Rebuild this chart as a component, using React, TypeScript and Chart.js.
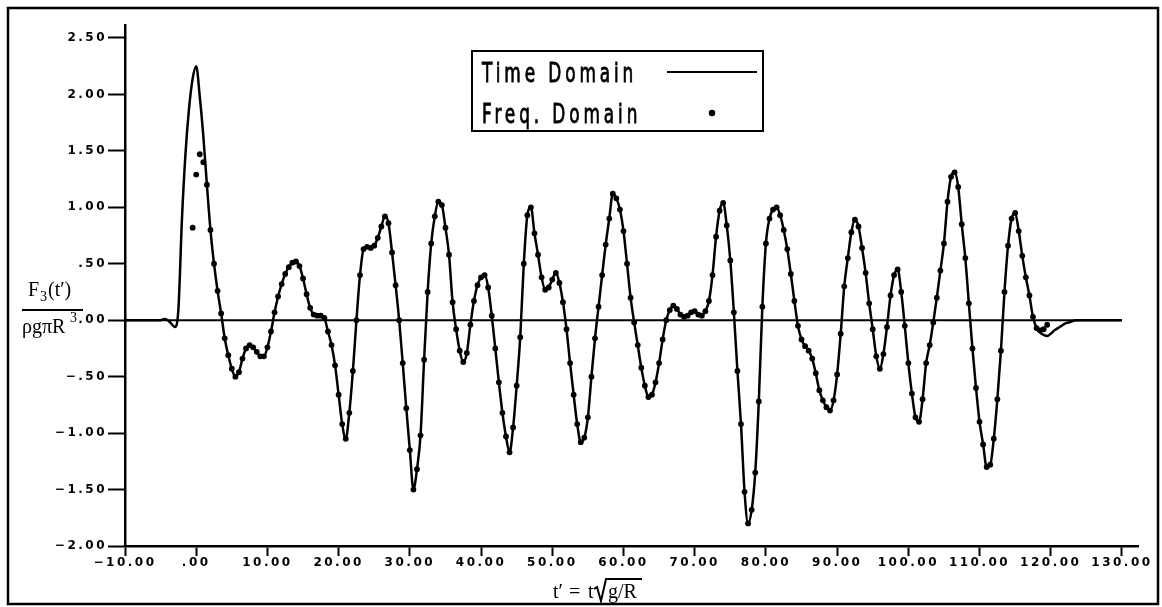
import { useEffect, useRef } from "react";
import { Chart, registerables } from "chart.js";

Chart.register(...registerables);

// Sampling of the time-domain trace: t' = -10 .. 130 in steps of 0.5
const T_START = -10;
const T_STEP = 0.5;

// F3(t') / (rho g pi R^3), time-domain solution
const TIME_DOMAIN: number[] = [
  // -10 .. -5.5
  0, 0, 0, 0, 0, 0, 0, 0, 0, 0,
  // -5 .. -0.5
  0.0, 0.01, 0.0, -0.03, -0.06, 0.1, 0.9, 1.48, 1.88, 2.14,
  // 0 .. 4.5
  2.25, 1.98, 1.63, 1.2, 0.8, 0.5, 0.26, 0.06, -0.16, -0.31,
  // 5 .. 9.5
  -0.43, -0.5, -0.46, -0.34, -0.25, -0.22, -0.24, -0.28, -0.32, -0.32,
  // 10 .. 14.5
  -0.24, -0.1, 0.07, 0.21, 0.32, 0.41, 0.47, 0.51, 0.52, 0.48,
  // 15 .. 19.5
  0.37, 0.23, 0.11, 0.05, 0.04, 0.04, 0.02, -0.1, -0.22, -0.4,
  // 20 .. 24.5
  -0.66, -0.92, -1.05, -0.82, -0.45, 0.0, 0.4, 0.63, 0.65, 0.64,
  // 25 .. 29.5
  0.66, 0.73, 0.83, 0.92, 0.86, 0.6, 0.31, 0.0, -0.38, -0.78,
  // 30 .. 34.5
  -1.15, -1.5, -1.32, -1.02, -0.35, 0.25, 0.68, 0.92, 1.05, 1.02,
  // 35 .. 39.5
  0.82, 0.58, 0.16, -0.08, -0.27, -0.37, -0.29, -0.04, 0.17, 0.31,
  // 40 .. 44.5
  0.38, 0.4, 0.29, 0.04, -0.25, -0.55, -0.82, -1.03, -1.17, -0.95,
  // 45 .. 49.5
  -0.58, -0.15, 0.5, 0.93, 1.0, 0.77, 0.58, 0.38, 0.27, 0.29,
  // 50 .. 54.5
  0.36, 0.42, 0.33, 0.16, -0.08, -0.38, -0.66, -0.92, -1.08, -1.04,
  // 55 .. 59.5
  -0.86, -0.5, -0.16, 0.12, 0.4, 0.67, 0.9, 1.12, 1.08, 0.98,
  // 60 .. 64.5
  0.79, 0.5, 0.2, -0.02, -0.22, -0.42, -0.58, -0.68, -0.66, -0.55,
  // 65 .. 69.5
  -0.38, -0.17, 0.0, 0.09, 0.13, 0.1, 0.05, 0.03, 0.04, 0.07,
  // 70 .. 74.5
  0.08, 0.05, 0.04, 0.08, 0.17, 0.4, 0.74, 0.97, 1.04, 0.84,
  // 75 .. 79.5
  0.53, 0.07, -0.45, -0.92, -1.52, -1.8, -1.68, -1.35, -0.72, 0.12,
  // 80 .. 84.5
  0.68, 0.9, 0.98, 1.0, 0.93, 0.8, 0.63, 0.41, 0.17, -0.05,
  // 85 .. 89.5
  -0.17, -0.23, -0.27, -0.34, -0.47, -0.62, -0.71, -0.77, -0.8, -0.71,
  // 90 .. 94.5
  -0.48, -0.12, 0.3, 0.55, 0.78, 0.89, 0.83, 0.64, 0.42, 0.15,
  // 95 .. 99.5
  -0.08, -0.32, -0.43, -0.3, -0.06, 0.22, 0.4, 0.45, 0.25, -0.05,
  // 100 .. 104.5
  -0.38, -0.65, -0.86, -0.9, -0.7, -0.38, -0.22, -0.02, 0.2, 0.44,
  // 105 .. 109.5
  0.68, 1.05, 1.27, 1.31, 1.18, 0.85, 0.55, 0.15, -0.25, -0.6,
  // 110 .. 114.5
  -0.9, -1.1, -1.3, -1.28, -1.05, -0.7, -0.27, 0.25, 0.66, 0.9,
  // 115 .. 119.5
  0.95, 0.79, 0.57, 0.38, 0.22, 0.03, -0.07, -0.11, -0.13, -0.14,
  // 120 .. 124.5
  -0.12, -0.09, -0.07, -0.05, -0.03, -0.02, -0.01, 0, 0, 0,
  // 125 .. 130
  0, 0, 0, 0, 0, 0, 0, 0, 0, 0, 0,
];

// Frequency-domain solution: sampled on the same grid from t' = -0.5 to 119.5.
// It coincides with the time-domain trace except at the start and the end.
const FREQ_START = -0.5;
const FREQ_END = 119.5;
const FREQ_HEAD: number[] = [0.82, 1.29, 1.47, 1.4]; // t' = -0.5 .. 1.0
const FREQ_TAIL: number[] = [-0.09, -0.08, -0.04]; // t' = 118.5 .. 119.5

// Horizontal reference line at zero
const ZERO_LINE_SPAN: number[] = [-10, 130];

// Axes
const X_TICKS: number[] = [-10, 0, 10, 20, 30, 40, 50, 60, 70, 80, 90, 100, 110, 120, 130];
const X_TICK_LABELS: string[] = [
  "\u221210.00", ".00", "10.00", "20.00", "30.00", "40.00", "50.00", "60.00",
  "70.00", "80.00", "90.00", "100.00", "110.00", "120.00", "130.00",
];
const Y_TICKS: number[] = [-2, -1.5, -1, -0.5, 0, 0.5, 1, 1.5, 2, 2.5];
const Y_TICK_LABELS: string[] = [
  "\u22122.00", "\u22121.50", "\u22121.00", "\u2212.50", ".00", ".50", "1.00", "1.50", "2.00", "2.50",
];
const X_MIN = -10;
const X_MAX = 132.25;
const Y_MIN = -2;
const Y_MAX = 2.615;

const LEGEND_LABELS: string[] = ["Time Domain", "Freq. Domain"];

const W = 1162;
const H = 607;

const tIndex = (t: number) => Math.round((t - T_START) / T_STEP);

function buildSeries() {
  const time = TIME_DOMAIN.map((v, i) => ({ x: T_START + i * T_STEP, y: v }));
  const middle = TIME_DOMAIN.slice(
    tIndex(FREQ_START) + FREQ_HEAD.length,
    tIndex(FREQ_END) - FREQ_TAIL.length + 1
  );
  const freqValues = [...FREQ_HEAD, ...middle, ...FREQ_TAIL];
  const freq = freqValues.map((v, i) => ({ x: FREQ_START + i * T_STEP, y: v }));
  return { time, freq };
}

const decorPlugin = {
  id: "decor",
  beforeDraw(chart: any) {
    chart.ctx.letterSpacing = "2.5px";
  },
  beforeDatasetsDraw(chart: any) {
    const { ctx, scales } = chart;
    const y0 = scales.y.getPixelForValue(0);
    ctx.save();
    ctx.letterSpacing = "0px";
    ctx.strokeStyle = "#000";
    ctx.lineWidth = 2;
    ctx.beginPath();
    ctx.moveTo(scales.x.getPixelForValue(ZERO_LINE_SPAN[0]), y0);
    ctx.lineTo(scales.x.getPixelForValue(ZERO_LINE_SPAN[1]), y0);
    ctx.stroke();
    ctx.restore();
  },
  afterDraw(chart: any) {
    const ctx = chart.ctx;
    ctx.letterSpacing = "0px";
    ctx.save();
    ctx.strokeStyle = "#000";
    ctx.fillStyle = "#000";

    // outer frame
    ctx.lineWidth = 2.5;
    ctx.strokeRect(8, 8, 1150, 596);

    // legend box
    ctx.lineWidth = 2;
    ctx.strokeRect(472, 51, 291, 80);

    const drawNarrow = (text: string, x: number, y: number) => {
      ctx.save();
      ctx.font = '26px "DejaVu Sans"';
      ctx.letterSpacing = "6px";
      ctx.textBaseline = "alphabetic";
      ctx.textAlign = "left";
      ctx.translate(x, y);
      ctx.scale(0.65, 1);
      ctx.lineWidth = 0.9;
      ctx.fillText(text, 0, 0);
      ctx.strokeText(text, 0, 0);
      ctx.restore();
    };
    drawNarrow(LEGEND_LABELS[0], 482, 82);
    drawNarrow(LEGEND_LABELS[1], 482, 123);

    ctx.lineWidth = 2;
    ctx.beginPath();
    ctx.moveTo(667, 72);
    ctx.lineTo(757, 72);
    ctx.stroke();
    ctx.beginPath();
    ctx.arc(712, 113, 3.2, 0, Math.PI * 2);
    ctx.fill();

    // y-axis title: F3(t') / (rho g pi R^3)
    ctx.textBaseline = "alphabetic";
    ctx.textAlign = "left";
    ctx.font = '20px "Liberation Serif"';
    ctx.fillText("F", 28, 296);
    ctx.font = '14px "Liberation Serif"';
    ctx.fillText("3", 40, 301);
    ctx.font = '20px "Liberation Serif"';
    ctx.fillText("(t\u2032)", 48, 296);
    ctx.lineWidth = 1.8;
    ctx.beginPath();
    ctx.moveTo(22, 310);
    ctx.lineTo(83, 310);
    ctx.stroke();
    ctx.fillText("\u03c1g\u03c0R", 22, 333);
    ctx.font = '14px "Liberation Serif"';
    ctx.fillText("3", 70, 322);

    // x-axis title: t' = t sqrt(g/R)
    ctx.font = '20px "Liberation Serif"';
    ctx.fillText("t\u2032", 553, 598);
    ctx.fillText("=", 569, 598);
    ctx.fillText("t", 588, 598);
    ctx.lineWidth = 2;
    ctx.beginPath();
    ctx.moveTo(594, 589);
    ctx.lineTo(597, 587);
    ctx.lineTo(601, 601);
    ctx.lineTo(606, 579);
    ctx.lineTo(642, 579);
    ctx.stroke();
    ctx.fillText("g/R", 608, 598);

    ctx.restore();
  },
};

export default function App() {
  const canvasRef = useRef<HTMLCanvasElement | null>(null);

  useEffect(() => {
    const canvas = canvasRef.current;
    if (!canvas) return;
    const { time, freq } = buildSeries();
    const tickFont = { family: '"DejaVu Sans"', size: 12, weight: "bold" as const };

    const chart = new Chart(canvas, {
      type: "line",
      data: {
        datasets: [
          {
            label: LEGEND_LABELS[0],
            data: time,
            borderColor: "#000",
            borderWidth: 2.5,
            pointRadius: 0,
            cubicInterpolationMode: "monotone",
            fill: false,
          },
          {
            label: LEGEND_LABELS[1],
            data: freq,
            showLine: false,
            pointRadius: 2.9,
            pointBackgroundColor: "#000",
            pointBorderWidth: 0,
            borderColor: "#000",
          },
        ],
      },
      options: {
        responsive: false,
        animation: false,
        events: [],
        layout: { padding: { left: 0, right: 24, top: 25, bottom: 21 } },
        plugins: {
          legend: { display: false },
          tooltip: { enabled: false },
          title: { display: false },
        },
        scales: {
          x: {
            type: "linear",
            min: X_MIN,
            max: X_MAX,
            afterFit: (s: any) => {
              s.height = 40;
            },
            afterBuildTicks: (s: any) => {
              s.ticks = X_TICKS.map((v) => ({ value: v }));
            },
            ticks: {
              autoSkip: false,
              maxRotation: 0,
              minRotation: 0,
              padding: 0,
              color: "#000",
              font: tickFont,
              callback: (v: any) => X_TICK_LABELS[X_TICKS.indexOf(Number(v))] ?? "",
            },
            grid: {
              drawOnChartArea: false,
              drawTicks: true,
              tickLength: 10,
              tickWidth: 2,
              tickColor: "#000",
            },
            border: { display: true, color: "#000", width: 2.5 },
          },
          y: {
            type: "linear",
            min: Y_MIN,
            max: Y_MAX,
            afterFit: (s: any) => {
              s.width = 125;
            },
            afterBuildTicks: (s: any) => {
              s.ticks = Y_TICKS.map((v) => ({ value: v }));
            },
            ticks: {
              autoSkip: false,
              padding: 1,
              color: "#000",
              font: tickFont,
              callback: (v: any) => Y_TICK_LABELS[Y_TICKS.indexOf(Number(v))] ?? "",
            },
            grid: {
              drawOnChartArea: false,
              drawTicks: true,
              tickLength: 17,
              tickWidth: 2,
              tickColor: "#000",
            },
            border: { display: true, color: "#000", width: 2.5 },
          },
        },
      },
      plugins: [decorPlugin],
    } as any);

    return () => {
      chart.destroy();
    };
  }, []);

  return (
    <div style={{ position: "absolute", left: 0, top: 0, width: W, height: H, background: "#fff" }}>
      <canvas ref={canvasRef} width={W} height={H} style={{ display: "block", width: W, height: H }} />
    </div>
  );
}
